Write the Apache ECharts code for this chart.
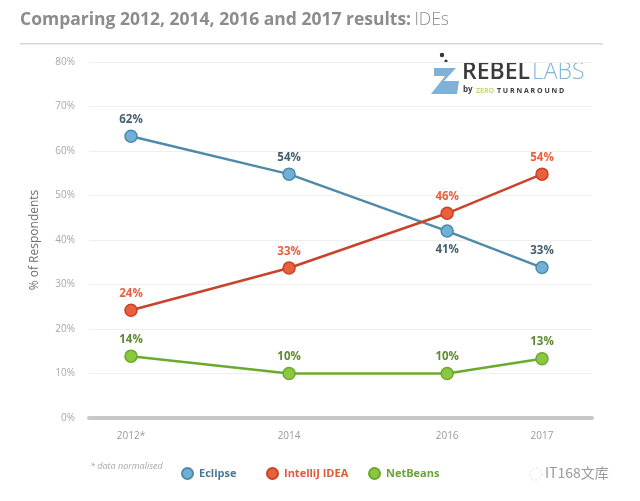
<!DOCTYPE html>
<html><head><meta charset="utf-8">
<script src="https://cdn.jsdelivr.net/npm/echarts@6/dist/echarts.min.js"></script>
<style>html,body{margin:0;padding:0;background:#fff}#c{width:640px;height:501px}</style>
</head><body><div id="c"></div>
<script>
// ---- data ----
var years = ['2012*', '2014', '2016', '2017'];
var yearGaps = [5, 5, 3]; // relative spacing of the years on the axis
var eclipse = [63.3, 54.8, 42.0, 33.8];
var eclipseLabels = ['62%', '54%', '41%', '33%'];
var intellij = [24.2, 33.7, 46.0, 54.8];
var intellijLabels = ['24%', '33%', '46%', '54%'];
var netbeans = [13.9, 10.0, 10.0, 13.3];
var netbeansLabels = ['14%', '10%', '10%', '13%'];
var yTicks = [0, 10, 20, 30, 40, 50, 60, 70, 80];

// ---- build category slots ----
var cats = [], slotOf = [];
years.forEach(function (y, i) {
  slotOf.push(cats.length);
  cats.push(y);
  if (i < yearGaps.length) for (var k = 1; k < yearGaps[i]; k++) cats.push('');
});
function slots(vals) {
  var arr = cats.map(function () { return null; });
  vals.forEach(function (v, i) { arr[slotOf[i]] = v; });
  return arr;
}
function labelFn(lbls) {
  return function (p) { var i = slotOf.indexOf(p.dataIndex); return i >= 0 ? lbls[i] : ''; };
}
var FONT = "'Open Sans', sans-serif";
function mkSeries(name, vals, lbls, line, fill, lblColor, below) {
  return {
    name: name, type: 'line', xAxisIndex: 1, yAxisIndex: 1,
    data: slots(vals).map(function (v, idx) {
      var item = { value: v };
      var yi = slotOf.indexOf(idx);
      if (below && below.indexOf(yi) >= 0) item.label = { position: 'bottom', distance: 6 };
      return item;
    }),
    connectNulls: true, symbol: 'circle', symbolSize: 12, showAllSymbol: true,
    lineStyle: { color: line, width: 2.5 },
    itemStyle: { color: fill, borderColor: line, borderWidth: 1.5 },
    label: { show: true, position: 'top', distance: 4, formatter: labelFn(lbls),
      color: lblColor, fontFamily: FONT, fontWeight: 'bold', fontSize: 11.5 },
    emphasis: { disabled: true }, z: 3
  };
}
function mkLegend(name, left, color) {
  return {
    left: left, top: 462, icon: 'circle', itemWidth: 11, itemHeight: 11, itemGap: 0,
    selectedMode: false,
    textStyle: { fontFamily: FONT, fontWeight: 'bold', fontSize: 11, color: color, padding: [0, 0, 0, 1] },
    data: [name]
  };
}

var chart = echarts.init(document.getElementById('c'), null, { renderer: 'canvas' });
chart.setOption({
  animation: false,
  grid: [
    { left: 89, right: 48, top: 62, bottom: 83 },
    { left: 131, right: 98, top: 62, bottom: 83 }
  ],
  xAxis: [
    { gridIndex: 0, type: 'category', data: ['a', 'b'], boundaryGap: false,
      axisLine: { show: true, lineStyle: { color: '#c8c8c8', width: 4 } },
      axisTick: { show: false }, axisLabel: { show: false }, splitLine: { show: false }, z: 1 },
    { gridIndex: 1, type: 'category', data: cats, boundaryGap: false,
      axisLine: { show: false }, axisTick: { show: false },
      axisLabel: { interval: 0, margin: 13, color: '#9a9a9a', fontSize: 10, fontFamily: FONT },
      splitLine: { show: false } }
  ],
  yAxis: [
    { gridIndex: 0, type: 'value', min: yTicks[0], max: yTicks[yTicks.length - 1], interval: 10,
      axisLine: { show: false }, axisTick: { show: false },
      axisLabel: { formatter: '{value}%', color: '#a8a8a8', fontSize: 10, fontFamily: FONT, margin: 14 },
      splitLine: { lineStyle: { color: '#efefef', width: 1 } },
      name: '% of Respondents', nameLocation: 'middle', nameGap: 48, nameRotate: 90,
      nameTextStyle: { color: '#6f6f6f', fontSize: 12, fontFamily: FONT } },
    { gridIndex: 1, type: 'value', min: 0, max: 80, interval: 10, show: false, splitLine: { show: false } }
  ],
  legend: [
    mkLegend('Eclipse', 176, '#4a7a96'),
    mkLegend('IntelliJ IDEA', 261, '#e05a3a'),
    mkLegend('NetBeans', 363, '#6aa436')
  ],
  series: [
    mkSeries('Eclipse', eclipse, eclipseLabels, '#4f8aa8', '#6fb0d8', '#445f70', [2]),
    mkSeries('IntelliJ IDEA', intellij, intellijLabels, '#c9432a', '#e8603c', '#e8603c'),
    mkSeries('NetBeans', netbeans, netbeansLabels, '#6aaa2c', '#8dc63f', '#5d8a2e')
  ],
  graphic: [
    { type: 'text', left: 20, top: 11, style: {
      text: '{b|Comparing 2012, 2014, 2016 and 2017 results:} {l|IDEs}',
      rich: {
        b: { fill: '#8c8c8c', font: "bold 17.5px 'Open Sans', sans-serif" },
        l: { fill: '#8c8c8c', font: "300 17.5px 'Open Sans', sans-serif" }
      } } },
    { type: 'rect', left: 20, top: 43, shape: { width: 583, height: 1.5 }, style: { fill: '#d8d8d8' } },
    // logo
    { type: 'polygon', shape: { points: [[434, 68], [456, 68], [444, 81], [459, 81], [457, 94], [431, 94], [445, 76], [434, 76]] },
      style: { fill: '#7fb2d6' } },
    { type: 'circle', shape: { cx: 442, cy: 55, r: 2.2 }, style: { fill: '#333' } },
    { type: 'circle', shape: { cx: 446, cy: 61, r: 1.6 }, style: { fill: '#333' } },
    { type: 'text', left: 462, top: 61, style: { text: 'REBEL', fill: '#3a3a3a', font: "600 23px 'Open Sans', sans-serif" } },
    { type: 'text', left: 532, top: 61, style: { text: 'LABS', fill: '#86b6d8', font: "300 23px 'Open Sans', sans-serif" } },
    { type: 'text', left: 463, top: 86, style: { text: 'by', fill: '#3a3a3a', font: "bold 8px 'Open Sans', sans-serif" } },
    { type: 'text', left: 476, top: 87, style: { text: 'ZERO', fill: '#c5d87a', font: "bold 7px 'Open Sans', sans-serif" } },
    { type: 'text', left: 497, top: 87, style: { text: 'T U R N A R O U N D', fill: '#3a3a3a', font: "bold 7px 'Open Sans', sans-serif" } },
    // footnote
    { type: 'text', left: 90, top: 462, style: { text: '* data normalised', fill: '#a8a8a8',
      font: "italic 9px 'Open Sans', sans-serif" } },
    // watermark
    { type: 'circle', shape: { cx: 536, cy: 474, r: 6 }, style: { fill: 'none', stroke: '#d8d8d8', lineWidth: 1, lineDash: [2, 2] } },
    { type: 'text', left: 545, top: 466, style: { text: 'IT168文库', fill: '#9a9a9a',
      font: "14px 'Noto Sans CJK SC', sans-serif" } }
  ]
});
</script></body></html>
